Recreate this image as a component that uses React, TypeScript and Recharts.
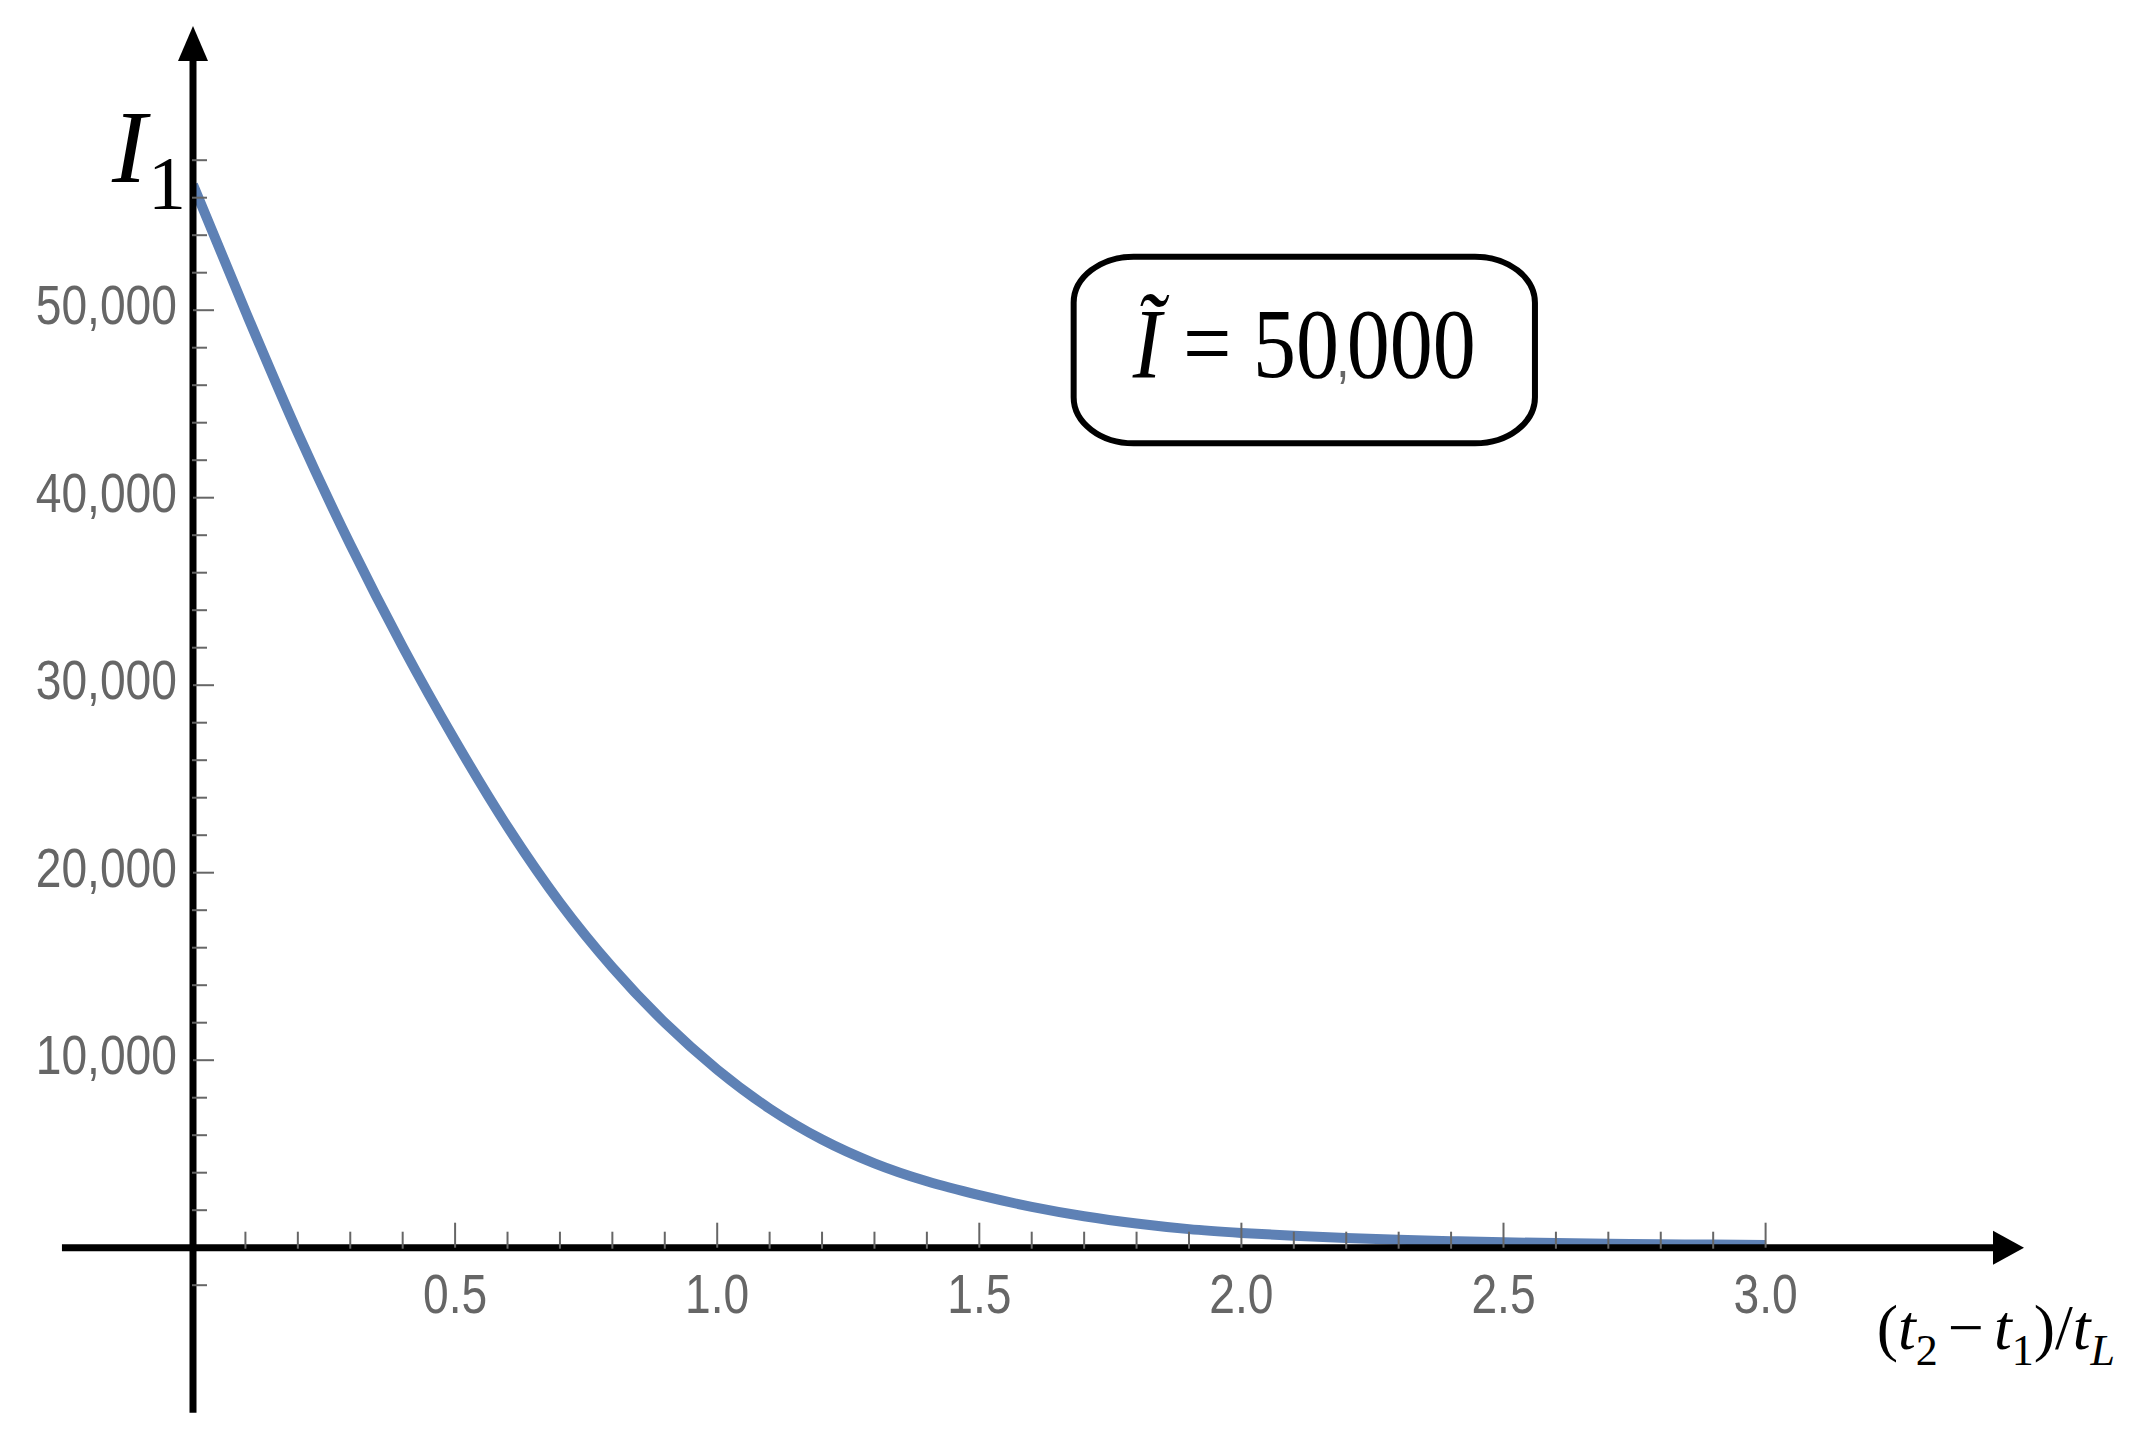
import React from 'react';
import { LineChart, Line, XAxis, YAxis, ReferenceLine, ReferenceDot, ReferenceArea } from 'recharts';

// ---- data ----
const xValues = [
  0, 0.1, 0.2, 0.3, 0.4, 0.5, 0.6, 0.7, 0.8, 0.9, 1.0, 1.1, 1.2, 1.3, 1.4, 1.5,
  1.6, 1.7, 1.8, 1.9, 2.0, 2.1, 2.2, 2.3, 2.4, 2.5, 2.6, 2.7, 2.8, 2.9, 3.0,
];
const iValues = [
  56700, 49950, 43450, 37500, 32050, 27050, 22450, 18400, 14950, 12000, 9500, 7420, 5770, 4500, 3540, 2800,
  2180, 1680, 1290, 990, 790, 640, 520, 425, 350, 288, 245, 213, 187, 166, 148,
];

const xMajorTicks = [0.5, 1.0, 1.5, 2.0, 2.5, 3.0];
const xTickLabels = ['0.5', '1.0', '1.5', '2.0', '2.5', '3.0'];
const xMinorTicks = [
  0.1, 0.2, 0.3, 0.4, 0.6, 0.7, 0.8, 0.9, 1.1, 1.2, 1.3, 1.4, 1.6, 1.7, 1.8, 1.9,
  2.1, 2.2, 2.3, 2.4, 2.6, 2.7, 2.8, 2.9,
];
const yMajorTicks = [10000, 20000, 30000, 40000, 50000];
const yTickLabels = ['10,000', '20,000', '30,000', '40,000', '50,000'];
const yMinorTicks = [
  -2000, 2000, 4000, 6000, 8000, 12000, 14000, 16000, 18000, 22000, 24000, 26000, 28000,
  32000, 34000, 36000, 38000, 42000, 44000, 46000, 48000, 52000, 54000, 56000, 58000,
];

const xDomain = [0, 3.5];
const yDomain = [0, 65200];
const xAxisExtent = [-0.25, 3.47];
const yAxisExtent = [-8800, 64500];
const xArrowTip = 3.493;
const yArrowTip = 65160;

const boxX = [1.68, 2.56];
const boxY = [42900, 52850];
const boxPrefix = ' = 50';
const boxComma = ',';
const boxSuffix = '000';

const data = xValues.map((x, i) => ({ x, I: iValues[i] }));

const TICK_COLOR = '#666666';
const LINE_COLOR = '#5E81B5';
const SANS = '"Liberation Sans", Arial, sans-serif';
const SERIF = '"Liberation Serif", "Times New Roman", serif';

const EmptyTick = () => <g />;

const XTick = (props: any) => {
  const { x, y, payload } = props;
  const idx = xMajorTicks.indexOf(payload.value);
  const label = idx >= 0 ? xTickLabels[idx] : '';
  return (
    <text
      transform={`translate(${x},${y}) scale(0.84,1)`}
      textAnchor="middle"
      dy="0.72em"
      fontFamily={SANS}
      fontSize={55}
      fill={TICK_COLOR}
    >
      {label}
    </text>
  );
};

const YTick = (props: any) => {
  const { x, y, payload } = props;
  const idx = yMajorTicks.indexOf(payload.value);
  const label = idx >= 0 ? yTickLabels[idx] : '';
  return (
    <text
      transform={`translate(${x},${y + 14}) scale(0.84,1)`}
      textAnchor="end"
      fontFamily={SANS}
      fontSize={55}
      fill={TICK_COLOR}
    >
      {label}
    </text>
  );
};

const renderXLabel = (props: any) => {
  const vb = props.viewBox;
  const x0 = vb.x + vb.width - 151;
  const yb = vb.y + 101;
  return (
    <text x={x0} y={yb} fontFamily={SERIF} fontSize={64} fill="#000">
      <tspan>(</tspan>
      <tspan fontStyle="italic">t</tspan>
      <tspan fontSize={44} dy={16}>2</tspan>
      <tspan dy={-16} dx={10}>−</tspan>
      <tspan dx={10} fontStyle="italic">t</tspan>
      <tspan fontSize={44} dy={16}>1</tspan>
      <tspan dy={-16}>)/</tspan>
      <tspan fontStyle="italic">t</tspan>
      <tspan fontSize={44} fontStyle="italic" dy={16}>L</tspan>
    </text>
  );
};

const renderYLabel = (props: any) => {
  const vb = props.viewBox;
  return (
    <g>
      <text x={vb.x - 80} y={vb.y + 157} fontFamily={SERIF} fontStyle="italic" fontSize={104} fill="#000">
        I
      </text>
      <text x={vb.x - 44} y={vb.y + 184} fontFamily={SERIF} fontSize={76} fill="#000">
        1
      </text>
    </g>
  );
};

const XArrow = (p: any) => (
  <polygon points={`${p.cx},${p.cy} ${p.cx - 31},${p.cy - 17} ${p.cx - 31},${p.cy + 17}`} fill="#000" />
);
const YArrow = (p: any) => (
  <polygon points={`${p.cx},${p.cy} ${p.cx - 15},${p.cy + 35} ${p.cx + 15},${p.cy + 35}`} fill="#000" />
);

const BoxShape = (p: any) => {
  const { x, y, width, height } = p;
  return (
    <g>
      <rect x={x} y={y} width={width} height={height} rx={60} ry={46} fill="#fff" stroke="#000" strokeWidth={6} />
      <text
        transform={`translate(${x + width / 2},${y + 120}) scale(0.86,1)`}
        textAnchor="middle"
        fontFamily={SERIF}
        fontSize={100}
        fill="#000"
        style={{ whiteSpace: 'pre' }}
      >
        <tspan fontStyle="italic">Ĩ</tspan>
        <tspan>{boxPrefix}</tspan>
        <tspan fontFamily={SANS} fontSize={55} fill={TICK_COLOR} dx={-3}>{boxComma}</tspan>
        <tspan dx={-3}>{boxSuffix}</tspan>
      </text>
    </g>
  );
};

export default function App() {
  return (
    <div style={{ position: 'absolute', left: 0, top: 0, width: 2140, height: 1445, background: '#fff' }}>
      <LineChart
        width={2140}
        height={1445}
        data={data}
        margin={{ top: 25.2, right: 112.3, bottom: 195.3, left: 191 }}
      >
        <Line
          type="monotone"
          dataKey="I"
          stroke={LINE_COLOR}
          strokeWidth={10}
          dot={false}
          activeDot={false}
          isAnimationActive={false}
        />
        <XAxis
          dataKey="x"
          type="number"
          domain={xDomain}
          allowDataOverflow
          ticks={xMajorTicks}
          interval={0}
          height={1}
          axisLine={false}
          tickSize={-25}
          tickMargin={51}
          tickLine={{ stroke: TICK_COLOR, strokeWidth: 2 }}
          tick={<XTick />}
          label={renderXLabel}
        />
        <XAxis
          xAxisId="xm"
          dataKey="x"
          type="number"
          domain={xDomain}
          allowDataOverflow
          ticks={xMinorTicks}
          interval={0}
          height={1}
          axisLine={false}
          tickSize={-17}
          tickLine={{ stroke: TICK_COLOR, strokeWidth: 2 }}
          tick={<EmptyTick />}
        />
        <YAxis
          type="number"
          domain={yDomain}
          allowDataOverflow
          ticks={yMajorTicks}
          interval={0}
          width={1}
          axisLine={false}
          tickSize={-21}
          tickMargin={37}
          tickLine={{ stroke: TICK_COLOR, strokeWidth: 2 }}
          tick={<YTick />}
          label={renderYLabel}
        />
        <YAxis
          yAxisId="ym"
          type="number"
          domain={yDomain}
          allowDataOverflow
          ticks={yMinorTicks}
          interval={0}
          width={1}
          axisLine={false}
          tickSize={-15}
          tickLine={{ stroke: TICK_COLOR, strokeWidth: 2 }}
          tick={<EmptyTick />}
        />
        <ReferenceLine
          segment={[{ x: xAxisExtent[0], y: 0 }, { x: xAxisExtent[1], y: 0 }]}
          stroke="#000"
          strokeWidth={7}
          ifOverflow="visible"
        />
        <ReferenceLine
          segment={[{ x: 0, y: yAxisExtent[0] }, { x: 0, y: yAxisExtent[1] }]}
          stroke="#000"
          strokeWidth={7}
          ifOverflow="visible"
        />
        <ReferenceDot x={xArrowTip} y={0} ifOverflow="visible" shape={XArrow} />
        <ReferenceDot x={0} y={yArrowTip} ifOverflow="visible" shape={YArrow} />
        <ReferenceArea
          x1={boxX[0]}
          x2={boxX[1]}
          y1={boxY[0]}
          y2={boxY[1]}
          ifOverflow="visible"
          shape={BoxShape}
        />
      </LineChart>
    </div>
  );
}
